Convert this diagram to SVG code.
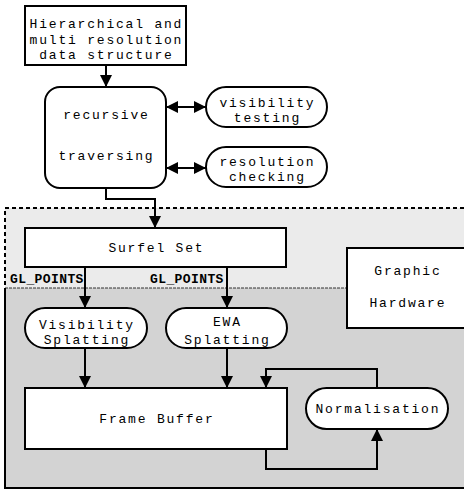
<svg xmlns="http://www.w3.org/2000/svg" width="464" height="491" viewBox="0 0 464 491">
  <style>
    .box { fill: #ffffff; stroke: #000000; stroke-width: 2; }
    .lbl { font-family: "Liberation Mono", "Courier New", monospace; font-size: 13px; letter-spacing: 1.8px; fill: #000000; text-anchor: middle; }
    .tag { font-family: "Liberation Mono", "Courier New", monospace; font-size: 13px; letter-spacing: 0.4px; font-weight: bold; fill: #000000; }
    .wire { fill: none; stroke: #000000; stroke-width: 2; }
  </style>
  <defs>
    <marker id="head" viewBox="0 0 12 12" refX="12" refY="6" markerWidth="12" markerHeight="12" markerUnits="userSpaceOnUse" orient="auto-start-reverse">
      <path d="M0,0 L12,6 L0,12 z" fill="#000000"/>
    </marker>
  </defs>

  <rect width="464" height="491" fill="#ffffff"/>

  <!-- software stage (dashed) and hardware stage (solid) -->
  <g id="software-region">
    <rect x="5" y="208" width="470" height="90" fill="#ebebeb" stroke="#000000" stroke-width="2" stroke-dasharray="4 3"/>
  </g>
  <g id="hardware-region">
    <rect x="5" y="288" width="470" height="200" fill="#d3d3d3" stroke="none"/>
    <path d="M5,288 H347" fill="none" stroke="#333333" stroke-width="1" stroke-dasharray="3 1"/>
    <path d="M5,288 V488 H470" fill="none" stroke="#000000" stroke-width="2"/>
  </g>

  <g id="data-structure">
    <rect class="box" x="25" y="6" width="161" height="59"/>
    <text class="lbl" x="106.4" y="28">Hierarchical and</text>
    <text class="lbl" x="106.4" y="43.5">multi resolution</text>
    <text class="lbl" x="106.4" y="59">data structure</text>
  </g>

  <g id="recursive-traversing">
    <rect class="box" x="45" y="87" width="121" height="101" rx="15" ry="15"/>
    <text class="lbl" x="106.4" y="119">recursive</text>
    <text class="lbl" x="106.4" y="160">traversing</text>
  </g>

  <g id="visibility-testing">
    <rect class="box" x="206" y="87" width="121" height="40" rx="20" ry="20"/>
    <text class="lbl" x="267.4" y="106.5">visibility</text>
    <text class="lbl" x="267.4" y="121.5">testing</text>
  </g>

  <g id="resolution-checking">
    <rect class="box" x="206" y="147" width="121" height="40" rx="20" ry="20"/>
    <text class="lbl" x="267.4" y="166">resolution</text>
    <text class="lbl" x="267.4" y="181">checking</text>
  </g>

  <g id="surfel-set">
    <rect class="box" x="25" y="228" width="261" height="39"/>
    <text class="lbl" x="156.4" y="252">Surfel Set</text>
  </g>

  <g id="graphic-hardware">
    <rect class="box" x="347" y="248" width="130" height="80"/>
    <text class="lbl" x="407.9" y="275">Graphic</text>
    <text class="lbl" x="407.9" y="307">Hardware</text>
  </g>

  <g id="visibility-splatting">
    <rect class="box" x="25" y="308" width="122" height="40" rx="20" ry="20"/>
    <text class="lbl" x="86.9" y="328.5">Visibility</text>
    <text class="lbl" x="86.9" y="343.5">Splatting</text>
  </g>

  <g id="ewa-splatting">
    <rect class="box" x="166" y="308" width="121" height="40" rx="20" ry="20"/>
    <text class="lbl" x="227.4" y="326">EWA</text>
    <text class="lbl" x="227.4" y="343.5">Splatting</text>
  </g>

  <g id="frame-buffer">
    <rect class="box" x="25" y="388" width="262" height="61"/>
    <text class="lbl" x="156.9" y="423">Frame Buffer</text>
  </g>

  <g id="normalisation">
    <rect class="box" x="306" y="388" width="142" height="41" rx="20.5" ry="20.5"/>
    <text class="lbl" x="377.9" y="413">Normalisation</text>
  </g>

  <g id="connectors">
    <path class="wire" d="M106,65 V87" marker-end="url(#head)"/>
    <path class="wire" d="M166,107 H206" marker-start="url(#head)" marker-end="url(#head)"/>
    <path class="wire" d="M166,168 H206" marker-start="url(#head)" marker-end="url(#head)"/>
    <path class="wire" d="M106,188 V199 H155 V228" marker-end="url(#head)"/>
    <path class="wire" d="M85,267 V308" marker-end="url(#head)"/>
    <path class="wire" d="M227,267 V308" marker-end="url(#head)"/>
    <path class="wire" d="M85,348 V388" marker-end="url(#head)"/>
    <path class="wire" d="M227,348 V388" marker-end="url(#head)"/>
    <path class="wire" d="M377,388 V369 H266 V388" marker-end="url(#head)"/>
    <path class="wire" d="M266,449 V469 H377 V429" marker-end="url(#head)"/>
    <text class="tag" x="10" y="283">GL_POINTS</text>
    <text class="tag" x="150" y="283">GL_POINTS</text>
  </g>
</svg>
